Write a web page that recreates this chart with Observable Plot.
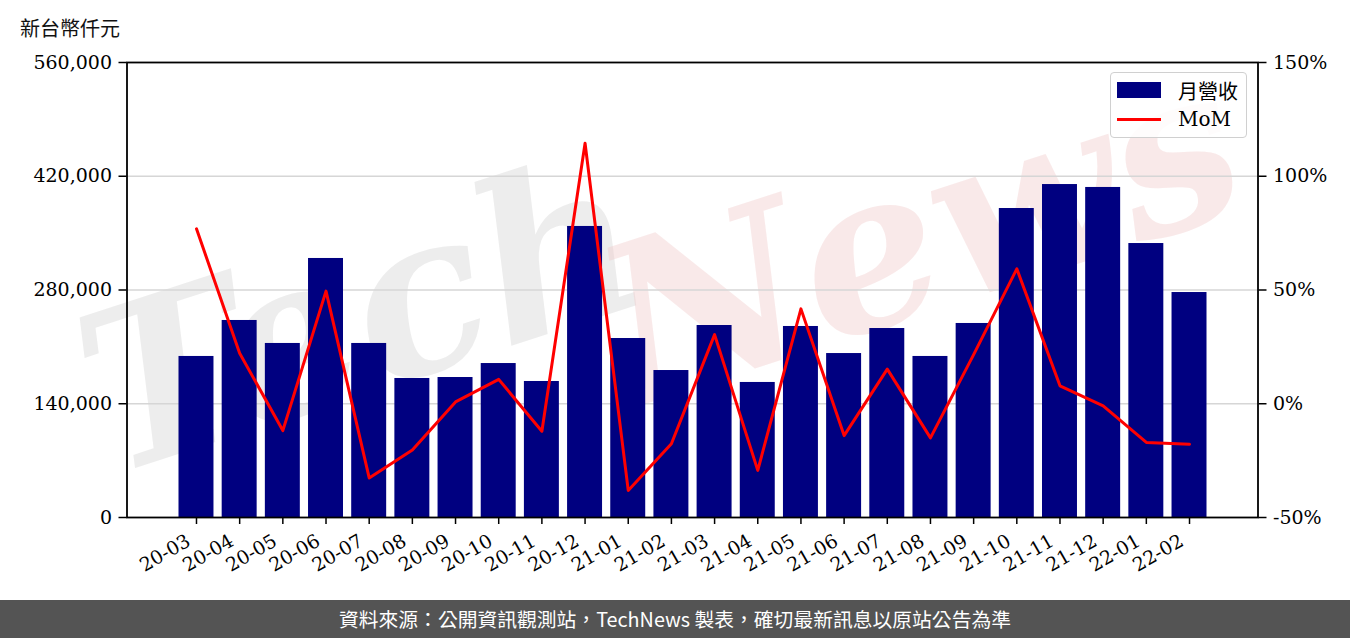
<!DOCTYPE html>
<html>
<head>
<meta charset="utf-8">
<script src="https://cdn.jsdelivr.net/npm/d3@7"></script>
<script src="https://cdn.jsdelivr.net/npm/@observablehq/plot@0.6"></script>
<style>
  html, body { margin: 0; padding: 0; background: #fff; }
  #wrap { position: relative; width: 1350px; height: 638px; overflow: hidden; }
  #unit { position: absolute; left: 20px; top: 13px; font-family: 'Noto Sans CJK TC', sans-serif; font-size: 20px; color: #111; }
  #legend { position: absolute; left: 1110px; top: 72px; width: 135px; height: 64px; border: 1.3px solid #d0d0d0; border-radius: 4px; background: rgba(255,255,255,0.85); font-family: 'DejaVu Serif', 'Noto Sans CJK TC', serif; font-size: 20px; color: #000; }
  #legend .row { position: absolute; left: 6px; height: 26px; display: flex; align-items: center; }
  #legend .sw { width: 44px; margin-right: 17px; }
  #footer { position: absolute; left: 0; top: 600px; width: 1350px; height: 38px; background: #545454; color: #fff; font-family: 'Noto Sans CJK TC', sans-serif; font-size: 19.8px; line-height: 38px; text-align: center; }
</style>
</head>
<body>
<div id="wrap">
  <div id="chart"></div>
  <div id="unit"></div>
  <div id="legend"></div>
  <div id="footer"></div>
</div>
<script>
const months = ["20-03","20-04","20-05","20-06","20-07","20-08","20-09","20-10","20-11","20-12",
                "21-01","21-02","21-03","21-04","21-05","21-06","21-07","21-08","21-09","21-10","21-11","21-12",
                "22-01","22-02"];
const revenue = [198200, 242500, 214200, 318800, 214200, 171100, 172300, 189500, 167400, 358200,
                 220300, 180900, 236300, 166200, 235100, 201800, 232600, 198200, 238800, 380300, 409800, 406200,
                 337200, 276900];
const mom = [76.9, 22.2, -11.8, 49.5, -32.6, -20.3, 0.8, 10.7, -12.1, 114.5,
             -38.1, -17.6, 30.4, -29.3, 41.7, -14.0, 15.2, -15.0, 21.6, 59.3, 7.9, -0.9,
             -17.0, -17.8];
const leftTicks = [0, 140000, 280000, 420000, 560000];
const rightTicks = [-50, 0, 50, 100, 150];
const seriesNames = ["月營收", "MoM"];
const unitLabel = "新台幣仟元";
const sourceText = "資料來源：公開資訊觀測站，TechNews 製表，確切最新訊息以原站公告為準";

const data = months.map((m, i) => ({month: m, revenue: revenue[i], mom: mom[i]}));
// secondary axis: map percent domain onto the primary value domain
const toLeft = d3.scaleLinear([-50, 150], [0, 560000]);
const tickFont = "'DejaVu Serif', serif";

const chart = Plot.plot({
  width: 1350, height: 600,
  marginLeft: 126.5, marginRight: 92.5, marginTop: 62, marginBottom: 83,
  style: {fontFamily: tickFont, fontSize: "19px", color: "#000", background: "transparent"},
  x: {domain: months, range: [174.4, 1210.6], paddingInner: 0.19, paddingOuter: 0.095, align: 0.5, round: false, label: null},
  y: {domain: [0, 560000], label: null},
  marks: [
    Plot.text(["Tech"], {frameAnchor: "middle", text: d => d, dx: -330, dy: 30, rotate: -18, fontSize: 220, fontStyle: "italic", fontWeight: "bold", fontFamily: "'DejaVu Serif', serif", fill: "#dcdcdc", fillOpacity: 0.5}),
    Plot.text(["News"], {frameAnchor: "middle", text: d => d, dx: 230, dy: -50, rotate: -18, fontSize: 220, fontStyle: "italic", fontWeight: "bold", fontFamily: "'DejaVu Serif', serif", fill: "#f0c8c8", fillOpacity: 0.4}),
    Plot.gridY(leftTicks.slice(1, 4), {stroke: "#d6d6d6", strokeOpacity: 1, strokeWidth: 1.6}),
    Plot.barY(data, {x: "month", y: "revenue", fill: "#000080"}),
    Plot.line(data, {x: "month", y: d => toLeft(d.mom), stroke: "#ff0000", strokeWidth: 3}),
    Plot.frame({stroke: "#000", strokeWidth: 1.8}),
    Plot.axisY(leftTicks, {tickFormat: d3.format(","), tickSize: 8, tickPadding: 7, strokeWidth: 1.5, label: null}),
    Plot.axisY(rightTicks.map(v => toLeft(v)), {anchor: "right", tickFormat: d => Math.round(toLeft.invert(d)) + "%", tickSize: 8, tickPadding: 7, strokeWidth: 1.5, label: null}),
    Plot.axisX(months, {tickSize: 7, strokeWidth: 1.5, tickFormat: () => "", label: null}),
    Plot.text(months, {x: d => d, frameAnchor: "bottom", text: d => d, rotate: -30, textAnchor: "end", lineAnchor: "middle", dx: -7.7, dy: 22, fontSize: 19})
  ]
});
document.getElementById("chart").appendChild(chart);

const legend = document.getElementById("legend");
legend.innerHTML =
  `<div class="row" style="top:4px"><div class="sw" style="height:16px;background:#000080"></div><span>${seriesNames[0]}</span></div>` +
  `<div class="row" style="top:33px"><div class="sw" style="height:3px;background:#ff0000"></div><span>${seriesNames[1]}</span></div>`;
document.getElementById("unit").textContent = unitLabel;
document.getElementById("footer").textContent = sourceText;
</script>
</body>
</html>
